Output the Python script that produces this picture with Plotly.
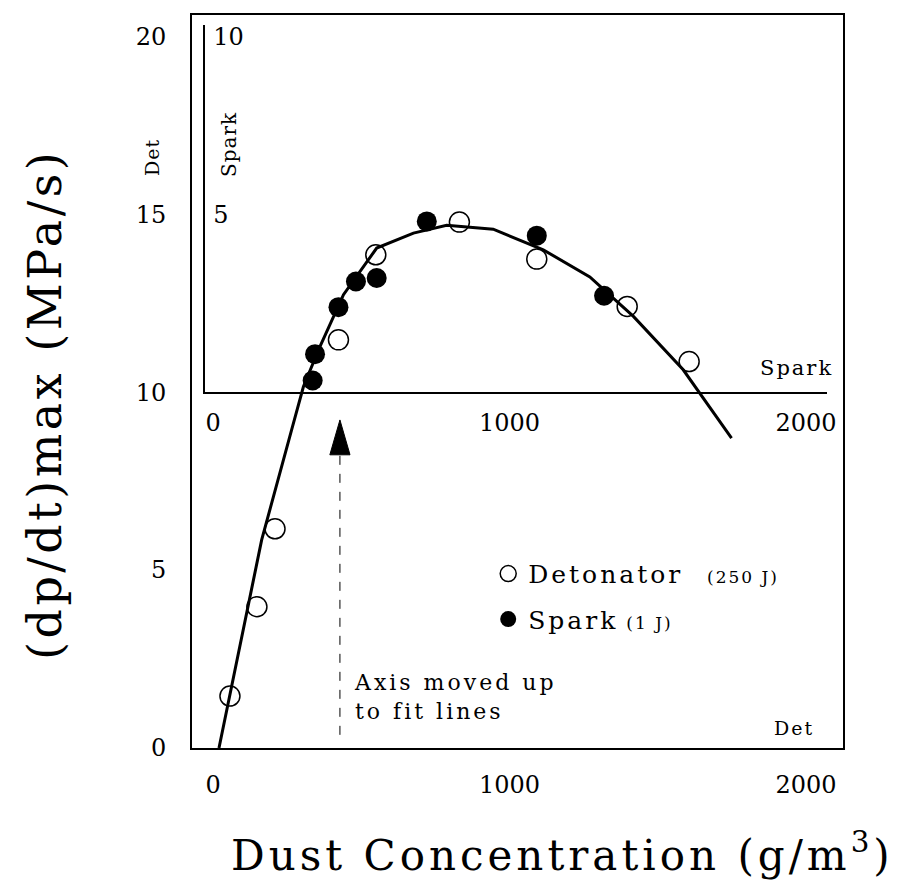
import plotly.graph_objects as go

# ---- data (Det axis units: g/m^3, MPa/s) ----
det_conc = [57, 148, 209, 423, 549, 831, 1092, 1397, 1606]
det_rate = [1.46, 3.97, 6.16, 11.47, 13.86, 14.78, 13.74, 12.41, 10.86]

# ---- Spark data (Spark axis units: MPa/s on the moved-up axis) ----
spark_conc = [336, 344, 423, 482, 552, 721, 1092, 1319]
spark_rate = [0.33, 1.07, 2.39, 3.11, 3.21, 4.80, 4.40, 2.71]

# ---- fitted line (Det axis units) ----
fit_conc = [20, 164, 265, 305, 361, 440, 552, 676, 788, 945, 1114, 1271, 1362, 1418, 1586, 1642, 1749]
fit_rate = [0, 5.85, 8.94, 10.16, 11.29, 12.74, 14.05, 14.47, 14.69, 14.58, 14.00, 13.24, 12.55, 12.13, 10.63, 9.97, 8.71]

det_x_ticks = [0, 1000, 2000]
det_y_ticks = [0, 5, 10, 15, 20]
spark_x_ticks = [0, 1000, 2000]
spark_y_ticks = [5, 10]

FONT = "DejaVu Serif"
W, H = 903, 881
ML, MR, MT, MB = 192, 60, 15, 133
PW, PH = W - ML - MR, H - MT - MB


def ls(text, px):
    return f"<span style='letter-spacing:{px}px'>{text}</span>"


fig = go.Figure()

fig.add_trace(go.Scatter(
    x=fit_conc, y=fit_rate, mode="lines",
    line=dict(color="black", width=3),
    showlegend=False, xaxis="x", yaxis="y",
))
fig.add_trace(go.Scatter(
    x=det_conc, y=det_rate, mode="markers",
    marker=dict(symbol="circle-open", size=20, color="black", line=dict(width=1.5)),
    name=ls("Detonator", 3) + "&nbsp;&nbsp;&nbsp;<span style='font-size:17px;letter-spacing:2px'>(250 J)</span>",
    legendgroup="a", xaxis="x", yaxis="y", cliponaxis=False,
))
fig.add_trace(go.Scatter(
    x=spark_conc, y=spark_rate, mode="markers",
    marker=dict(symbol="circle", size=20, color="black"),
    name=ls("Spark", 3) + " <span style='font-size:17px;letter-spacing:2px'>(1 J)</span>",
    legendgroup="b", xaxis="x2", yaxis="y2", cliponaxis=False,
))

tickfont = dict(family=FONT, size=24, color="black")

fig.update_layout(
    width=W, height=H,
    margin=dict(l=ML, r=MR, t=MT, b=MB),
    paper_bgcolor="white", plot_bgcolor="rgba(0,0,0,0)",
    showlegend=True,
    legend=dict(x=0.455, y=0.269, xanchor="left", yanchor="top",
                font=dict(family=FONT, size=25, color="black"),
                bgcolor="rgba(0,0,0,0)", traceorder="grouped", tracegroupgap=10,
                itemwidth=30),
    xaxis=dict(domain=[0, 1], range=[-71, 2125], tickvals=det_x_ticks,
               showline=True, mirror=True, linecolor="black", linewidth=2,
               ticks="", showgrid=False, zeroline=False, tickfont=tickfont,
               ticklabelstandoff=14, anchor="y"),
    yaxis=dict(domain=[0, 1], range=[0, 20.6], tickvals=det_y_ticks,
               showline=True, mirror=True, linecolor="black", linewidth=2,
               ticks="", showgrid=False, zeroline=False, tickfont=tickfont,
               ticklabelstandoff=19, anchor="x"),
    xaxis2=dict(domain=[0.02, 0.9754], range=[-27.15, 2071], tickvals=spark_x_ticks,
                showline=True, linecolor="black", linewidth=2, anchor="y2",
                ticks="", showgrid=False, zeroline=False, tickfont=tickfont,
                ticklabelstandoff=8, ticklabeloverflow="allow"),
    yaxis2=dict(domain=[0.4854, 0.9864], range=[0, 10.32], tickvals=spark_y_ticks,
                showline=True, linecolor="black", linewidth=2, anchor="x2",
                ticks="", showgrid=False, zeroline=False, tickfont=tickfont,
                ticklabelposition="inside", ticklabelstandoff=10,
                ticklabeloverflow="allow"),
)

# arrow: dashed shaft + filled head
fig.add_shape(type="line", xref="x", yref="y", x0=428, x1=428, y0=0.37, y1=8.24,
              line=dict(color="black", width=1, dash="dash"))
fig.add_shape(type="path", xref="x", yref="y",
              path="M 394,8.24 L 462,8.24 L 428,9.22 Z",
              fillcolor="black", line=dict(color="black", width=1))

ann = [
    dict(text=ls("Axis moved up", 3) + "<br>" + ls("to fit lines", 3), x=352, y=697,
         font=dict(family=FONT, size=22), align="left", xanchor="left"),
    dict(text=ls("Det", 1), x=152, y=158, textangle=-90, font=dict(family=FONT, size=19)),
    dict(text=ls("Spark", 1), x=229, y=145, textangle=-90, font=dict(family=FONT, size=20)),
    dict(text=ls("Spark", 2), x=796, y=368, font=dict(family=FONT, size=21)),
    dict(text=ls("Det", 2), x=794, y=728, font=dict(family=FONT, size=19)),
    dict(text=ls("Dust Concentration (g/m<sup>3</sup>)", 4), x=562, y=852,
         font=dict(family=FONT, size=42)),
    dict(text=ls("(dp/dt)max (MPa/s)", 3.5), x=45, y=405, textangle=-90,
         font=dict(family=FONT, size=46)),
]
for a in ann:
    px, py = a.pop("x"), a.pop("y")
    a["font"]["color"] = "black"
    a.setdefault("xanchor", "center")
    fig.add_annotation(
        x=(px - ML) / PW, y=(H - MB - py) / PH, xref="paper", yref="paper",
        showarrow=False, yanchor="middle", **a,
    )

fig.write_html("out.html")
